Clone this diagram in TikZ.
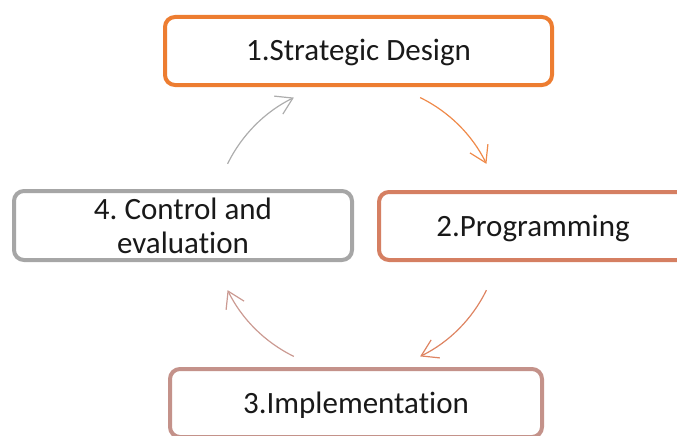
\documentclass[tikz,border=0pt]{standalone}
\usepackage{fontspec}
\setmainfont{Carlito}[Ligatures={NoCommon}]
\frenchspacing
\usetikzlibrary{arrows.meta}
\definecolor{stageA}{HTML}{ED7D31}
\definecolor{stageB}{HTML}{D57F62}
\definecolor{stageC}{HTML}{C4928A}
\definecolor{stageD}{HTML}{A6A6A6}
\definecolor{arrA}{HTML}{EF8A4A}
\definecolor{arrB}{HTML}{DE8462}
\definecolor{arrC}{HTML}{CB9A92}
\definecolor{arrD}{HTML}{ADADAD}
\begin{document}
\begin{tikzpicture}[x=1pt,y=-1pt,
  stagebox/.style={draw, line width=4pt, rounded corners=10pt, fill=white,
    inner sep=0pt, minimum height=68pt, text=black!90,
    font=\fontsize{31}{34}\selectfont},
  oneline/.style={text height=20pt, text depth=0pt},
  cyclearrow/.style={line width=1.2pt,
    -{Straight Barb[length=16pt,width=20pt,line width=1.2pt]}}]
  \useasboundingbox (0,0) rectangle (677,436);

  % the four stages of the cycle
  \node[stagebox, oneline, draw=stageA, minimum width=387pt] (s1) at (358.5,51) {1.Strategic Design};
  \node[stagebox, oneline, draw=stageB, minimum width=308pt] (s2) at (533,226) {2.Programming};
  \node[stagebox, oneline, draw=stageC, minimum width=372pt] (s3) at (356,403) {3.Implementation};
  \node[stagebox, draw=stageD, minimum width=338pt, minimum height=69pt, align=center] (s4) at (183,225.5) {4. Control and\\evaluation};

  % arrows around the cycle, arcs of one circle
  \coordinate (c) at (357,227);
  \draw[cyclearrow, arrA] ([shift={(-64:144)}]c) arc[start angle=-64, end angle=-26, radius=144];
  \draw[cyclearrow, arrB] ([shift={(26:144)}]c) arc[start angle=26, end angle=64, radius=144];
  \draw[cyclearrow, arrC] ([shift={(116:144)}]c) arc[start angle=116, end angle=154, radius=144];
  \draw[cyclearrow, arrD] ([shift={(206:144)}]c) arc[start angle=206, end angle=244, radius=144];
\end{tikzpicture}
\end{document}
